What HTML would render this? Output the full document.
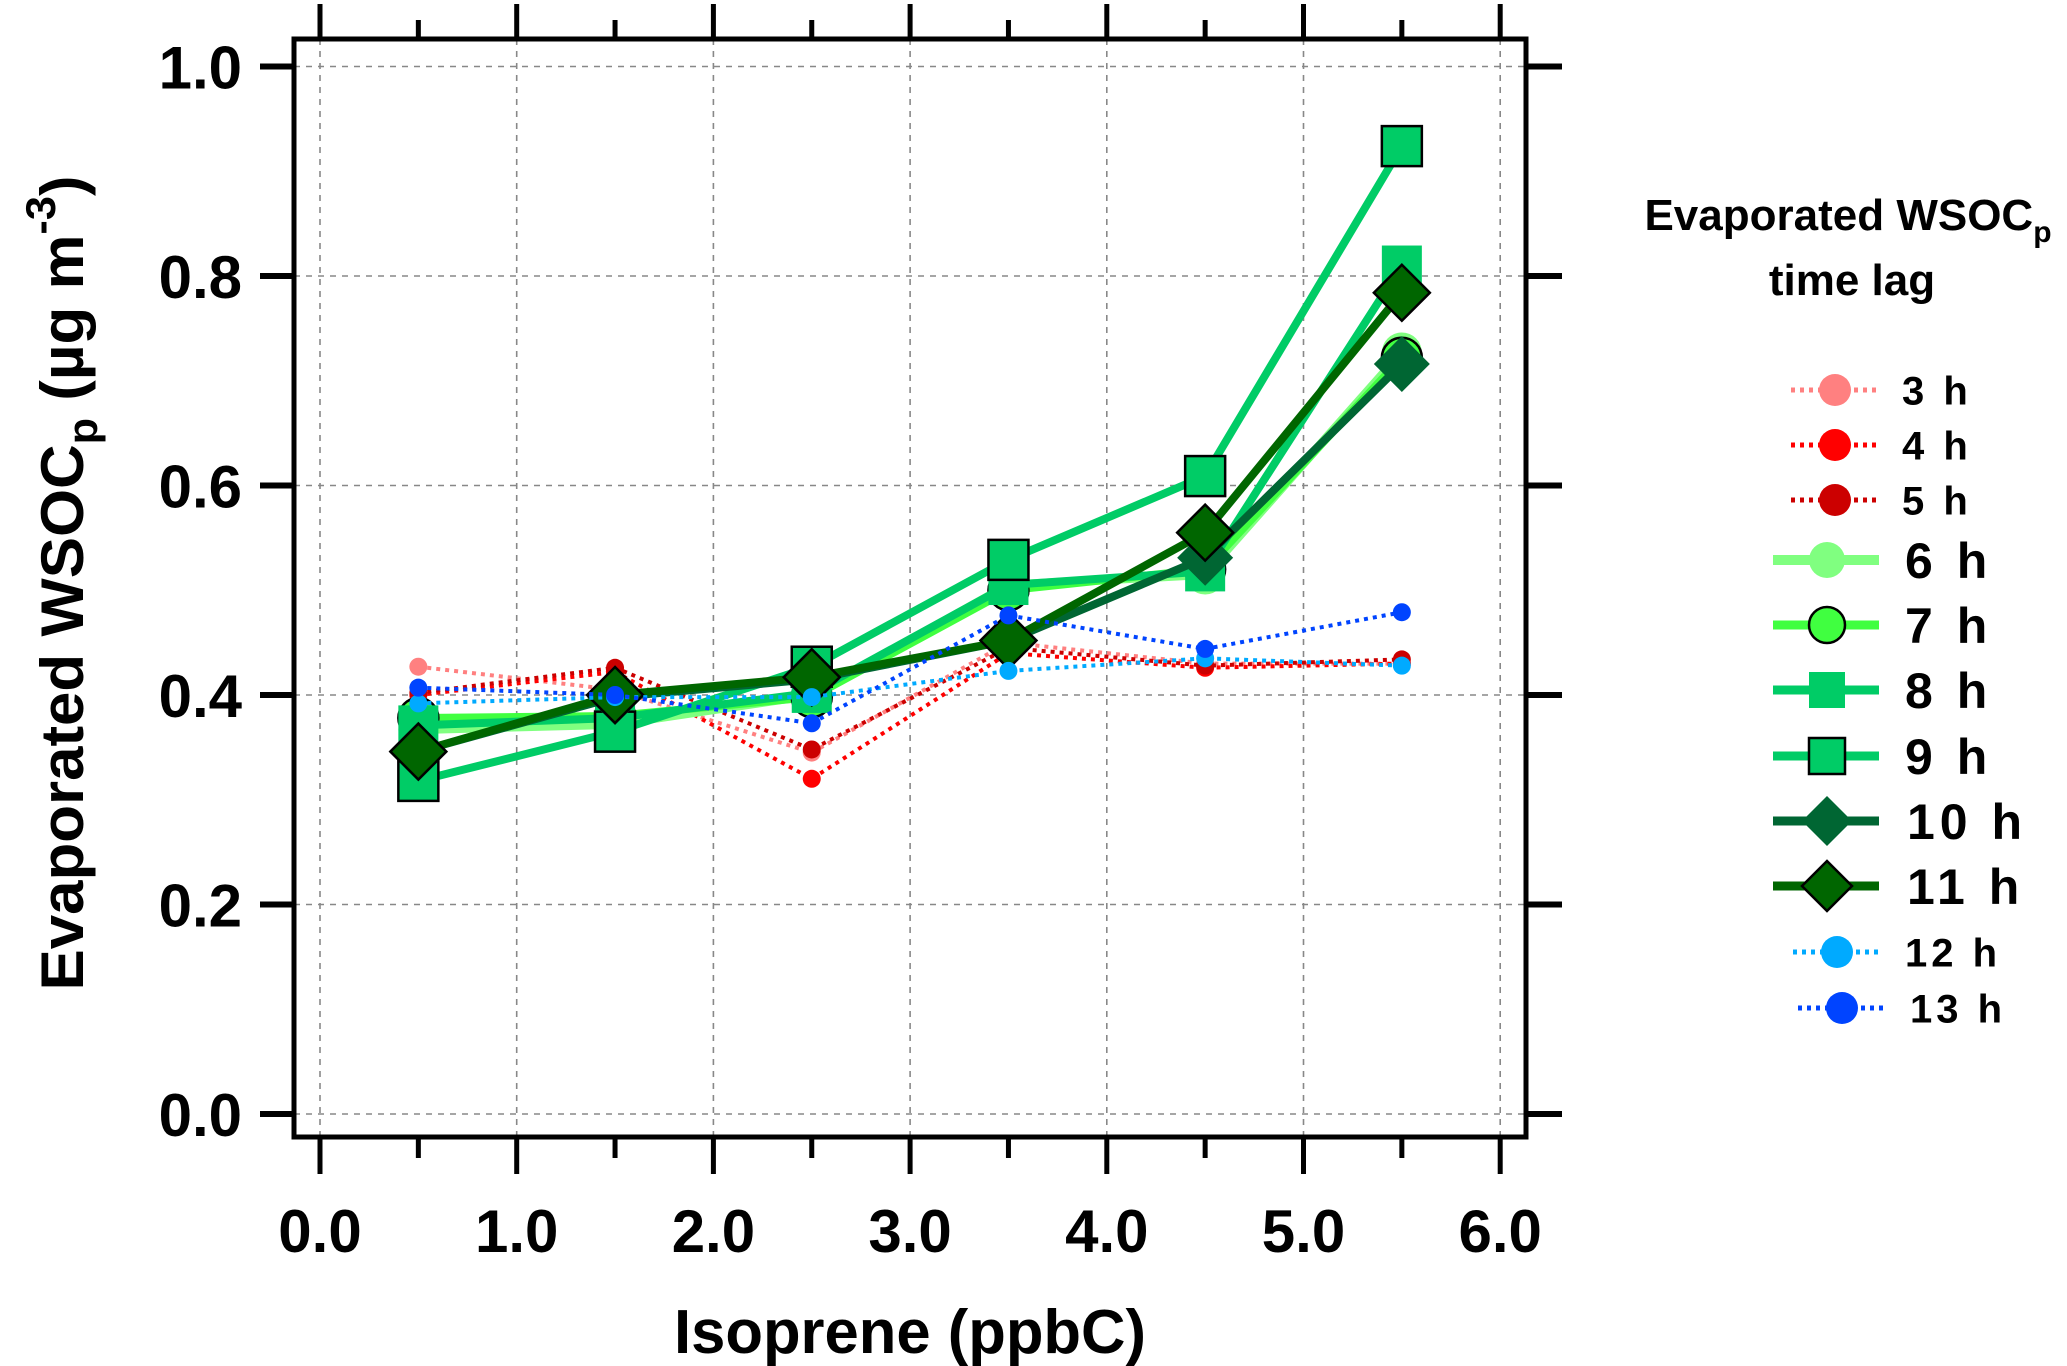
<!DOCTYPE html>
<html><head><meta charset="utf-8"><style>
html,body{margin:0;padding:0;background:#fff;}
svg{display:block;font-family:"Liberation Sans",Arial,sans-serif;font-weight:bold;}
</style></head><body>
<svg id="chart" width="2067" height="1366" viewBox="0 0 2067 1366">
<g id="grid"></g>
<g id="series"></g>
<g id="axes"></g>
<g id="legend"></g>
<text x="910" y="1353" font-size="62" text-anchor="middle" textLength="472" lengthAdjust="spacingAndGlyphs">Isoprene (ppbC)</text>
<text transform="translate(83,583) rotate(-90)" font-size="60" text-anchor="middle" textLength="815" lengthAdjust="spacingAndGlyphs">Evaporated WSOC<tspan font-size="42" dy="14">p</tspan><tspan dy="-14"> (µg m</tspan><tspan font-size="42" dy="-28">-3</tspan><tspan dy="28">)</tspan></text>
<text x="1848" y="230" font-size="44" text-anchor="middle">Evaporated WSOC<tspan font-size="30" dy="12">p</tspan></text>
<text x="1852" y="295" font-size="44" text-anchor="middle">time lag</text>
</svg>
<script>
const xCats = [0.5, 1.5, 2.5, 3.5, 4.5, 5.5];
const seriesNames = ["3 h","4 h","5 h","6 h","7 h","8 h","9 h","10 h","11 h","12 h","13 h"];
const s3h  = [0.427, 0.405, 0.345, 0.450, 0.430, 0.430];
const s4h  = [0.400, 0.422, 0.320, 0.440, 0.426, 0.430];
const s5h  = [0.402, 0.426, 0.348, 0.445, 0.428, 0.434];
const s6h  = [0.367, 0.372, 0.400, 0.505, 0.515, 0.727];
const s7h  = [0.378, 0.380, 0.398, 0.500, 0.520, 0.722];
const s8h  = [0.371, 0.378, 0.402, 0.505, 0.518, 0.810];
const s9h  = [0.318, 0.365, 0.427, 0.529, 0.609, 0.924];
const s10h = [0.346, 0.398, 0.415, 0.452, 0.531, 0.716];
const s11h = [0.346, 0.400, 0.417, 0.452, 0.555, 0.784];
const s12h = [0.392, 0.398, 0.398, 0.423, 0.435, 0.428];
const s13h = [0.407, 0.400, 0.373, 0.476, 0.444, 0.479];
const xTicks = ["0.0","1.0","2.0","3.0","4.0","5.0","6.0"];
const yTicks = ["0.0","0.2","0.4","0.6","0.8","1.0"];

const NS="http://www.w3.org/2000/svg";
const X0=320, XU=196.7, Y0=1114, YU=1047.5;
const FL=294, FR=1526, FT=39, FB=1137;
function xs(v){return X0+v*XU;}
function ys(v){return Y0-v*YU;}
function mk(tag,attrs,parent){const e=document.createElementNS(NS,tag);for(const k in attrs)e.setAttribute(k,attrs[k]);parent.appendChild(e);return e;}

const grid=document.getElementById('grid');
xTicks.forEach(t=>{const x=xs(parseFloat(t));
  const l=mk('line',{x1:x,x2:x,y1:FT,y2:FB,stroke:'#888','stroke-width':1.6,'stroke-dasharray':'6,6'},grid);
  
  });
yTicks.forEach(t=>{const y=ys(parseFloat(t));
  const l=mk('line',{x1:FL,x2:FR,y1:y,y2:y,stroke:'#888','stroke-width':1.6,'stroke-dasharray':'6,6'},grid);
  
  });

const axes=document.getElementById('axes');
const fr=mk('rect',{x:FL,y:FT,width:FR-FL,height:FB-FT,fill:'none',stroke:'#000','stroke-width':5},axes);


xTicks.forEach((t,i)=>{const v=parseFloat(t),x=xs(v);
  const a=mk('line',{x1:x,x2:x,y1:FB,y2:FB+37,stroke:'#000','stroke-width':5},axes);
  
  
  const b=mk('line',{x1:x,x2:x,y1:FT,y2:4,stroke:'#000','stroke-width':5},axes);
  
  
  if(i<xTicks.length-1){const xm=xs(v+0.5);
    const c=mk('line',{x1:xm,x2:xm,y1:FB,y2:FB+21,stroke:'#000','stroke-width':5},axes);
    
    
    const d=mk('line',{x1:xm,x2:xm,y1:FT,y2:FT-19,stroke:'#000','stroke-width':5},axes);
    
    }
  const tx=mk('text',{x:x,y:1252,'font-size':60,'text-anchor':'middle'},axes);tx.textContent=t;
  
  });
yTicks.forEach(t=>{const y=ys(parseFloat(t));
  const a=mk('line',{x1:260,x2:FL,y1:y,y2:y,stroke:'#000','stroke-width':6},axes);
  
  
  const b=mk('line',{x1:FR,x2:1562,y1:y,y2:y,stroke:'#000','stroke-width':6},axes);
  
  
  const tx=mk('text',{x:242,y:y+22,'font-size':60,'text-anchor':'end'},axes);tx.textContent=t;
  
  });

const styles=[
 {c:'#ff8080',w:4,dash:'4,5',m:'circle',r:9,ol:false},
 {c:'#ff0000',w:4,dash:'4,5',m:'circle',r:9,ol:false},
 {c:'#cc0000',w:4,dash:'4,5',m:'circle',r:9,ol:false},
 {c:'#80ff80',w:9,dash:null,m:'circle',r:20,ol:false},
 {c:'#40ff40',w:8,dash:null,m:'circle',r:20,ol:true},
 {c:'#00cc66',w:8,dash:null,m:'square',r:20,ol:false},
 {c:'#00cc66',w:8,dash:null,m:'square',r:20,ol:true},
 {c:'#006633',w:8,dash:null,m:'diamond',r:28,ol:false},
 {c:'#006600',w:8,dash:null,m:'diamond',r:28,ol:true},
 {c:'#00aaff',w:4,dash:'4,5',m:'circle',r:9,ol:false},
 {c:'#0044ff',w:4,dash:'4,5',m:'circle',r:9,ol:false}];
const allSeries=[s3h,s4h,s5h,s6h,s7h,s8h,s9h,s10h,s11h,s12h,s13h];

function marker(g,st,x,y,r){
  const o=st.ol?{stroke:'#000','stroke-width':2.5}:{};
  let e;
  if(st.m==='circle') e=mk('circle',Object.assign({cx:x,cy:y,r:r,fill:st.c},o),g);
  else if(st.m==='square') e=mk('rect',Object.assign({x:x-r,y:y-r,width:2*r,height:2*r,fill:st.c},o),g);
  else e=mk('polygon',Object.assign({points:`${x-r},${y} ${x},${y-r} ${x+r},${y} ${x},${y+r}`,fill:st.c},o),g);
  return e;}

const sg=document.getElementById('series');
allSeries.forEach((vals,i)=>{const st=styles[i];
  const g=mk('g',{},sg);
  
  
  const pts=vals.map((v,j)=>xs(xCats[j])+','+ys(v)).join(' ');
  const a={points:pts,fill:'none',stroke:st.c,'stroke-width':st.w,'stroke-linejoin':'round'};
  if(st.dash)a['stroke-dasharray']=st.dash;
  const pl=mk('polyline',a,g);
  
  
  vals.forEach((v,j)=>{const m=marker(g,st,xs(xCats[j]),ys(v),st.r);
    
    });
});

const leg=document.getElementById('legend');
const legY=[390,445,500,560,625,690,756,821,886,952,1008];
const legMX=[1835,1835,1835,1827,1827,1827,1827,1827,1827,1837,1842];
const legL=[[1791,1876],[1791,1876],[1791,1876],[1773,1879],[1773,1879],[1773,1879],[1773,1879],[1773,1879],[1773,1879],[1793,1878],[1798,1883]];
const legTX=[1902,1902,1902,1905,1905,1905,1905,1907,1907,1905,1910];
const legFS=[40,40,40,50,50,50,50,50,50,40,40];
const legR=[16,16,16,18,18,18,18,25,25,16,16];
seriesNames.forEach((n,i)=>{const st=styles[i];const y=legY[i];
  const g=mk('g',{},leg);
  
  
  const a={x1:legL[i][0],x2:legL[i][1],y1:y,y2:y,stroke:st.c,'stroke-width':st.w+1};
  if(st.dash)a['stroke-dasharray']=st.dash;
  mk('line',a,g);
  marker(g,st,legMX[i],y,legR[i]);
  const t=mk('text',{x:legTX[i],y:y+legFS[i]*0.36,'font-size':legFS[i],'letter-spacing':legFS[i]*0.1},g);
  t.textContent=n;});
</script>
</body></html>
